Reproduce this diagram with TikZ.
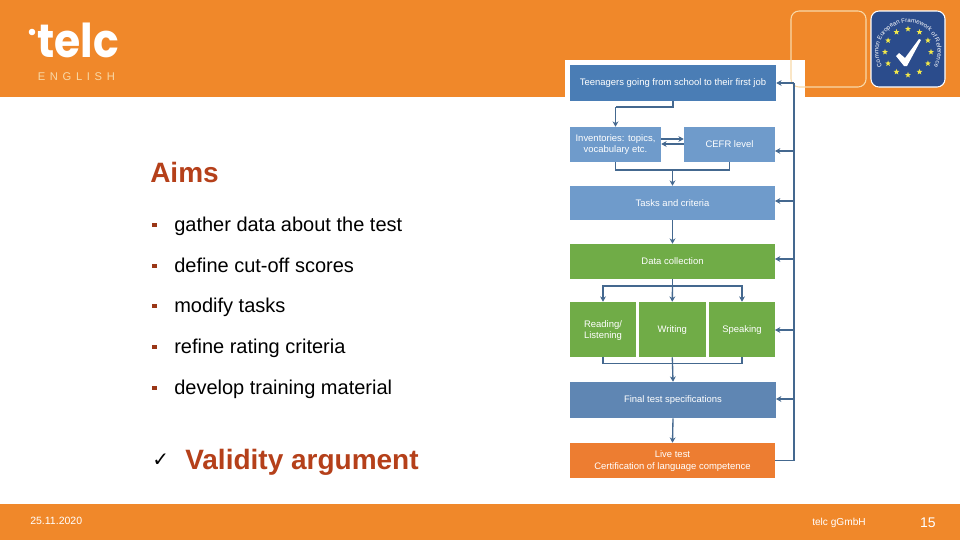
\documentclass[tikz,border=0pt]{standalone}
\usepackage{fontspec}
\setmainfont{Liberation Sans}
\newfontfamily\symfont{DejaVu Sans}
\newfontfamily\logofont{Poppins}
\usetikzlibrary{arrows.meta,decorations.text,shapes.geometric,calc}
\definecolor{brandorange}{HTML}{F0882A}
\definecolor{titlered}{HTML}{B5401A}
\definecolor{bluedark}{HTML}{4A7DB5}
\definecolor{bluemid}{HTML}{6F9BCB}
\definecolor{bluefinal}{HTML}{5F86B3}
\definecolor{greenbox}{HTML}{70AC47}
\definecolor{orangebox}{HTML}{ED7D31}
\definecolor{linkblue}{HTML}{44688F}
\definecolor{badgeblue}{HTML}{2B4C8C}
\definecolor{staryellow}{HTML}{F2E84A}
\definecolor{outlinecream}{HTML}{F8D9A8}
\tikzset{
  flowbox/.style={draw=none,fill=#1,inner sep=0pt},
  flowtext/.style={text=white,align=center,font=\fontsize{7.1}{9}\selectfont},
  link/.style={draw=linkblue,line width=1pt},
  arrowlink/.style={link,-{Stealth[length=4pt,width=4.4pt]}},
  aimitem/.style={anchor=base west,inner sep=0pt,font=\fontsize{15}{17}\selectfont,text=black},
  bulletmark/.style={fill=titlered!85!black,minimum size=3.6pt,inner sep=0pt},
  starmark/.style={star,star points=5,star point ratio=2.4,fill=staryellow,minimum size=4.6pt,inner sep=0pt},
  foottext/.style={anchor=base west,inner sep=0pt,text=white},
}
\newcommand{\flowbox}[6]{\node[flowbox=#2,minimum width=#5*0.75pt,minimum height=#6*0.75pt] (#1) at ({#3+#5/2},{#4+#6/2}) {};}
\begin{document}
\begin{tikzpicture}[x=0.75pt,y=-0.75pt]
\useasboundingbox (0,0) rectangle (960,540);
\fill[white] (0,0) rectangle (960,540);
\fill[brandorange] (0,0) rectangle (960,97);
\fill[brandorange] (0,504) rectangle (960,540);
\fill[white] (565,60) rectangle (805,100);

% logo
\node[anchor=base west,inner sep=0pt,text=white,xscale=0.91,font=\logofont\bfseries\fontsize{35}{35}\selectfont] (telc) at (37,57) {telc};
\fill[white] (32,32) circle (3.3);
\node[anchor=base west,inner sep=0pt,text=outlinecream,font=\fontsize{8.4}{9}\selectfont] (eng) at (37.5,80) {E\hspace{3.5pt}N\hspace{3.5pt}G\hspace{3.5pt}L\hspace{3.5pt}I\hspace{3.5pt}S\hspace{3.5pt}H};

% badges
\draw[outlinecream,line width=0.8pt,rounded corners=6pt] (791,11) rectangle (866,87);
\draw[white,fill=badgeblue,line width=0.8pt,rounded corners=6pt] (871,11) rectangle (945,87);
\begin{scope}[shift={(908,52)},x=0.75pt,y=0.75pt]
\foreach \a in {0,30,...,330}{\node[starmark] at (\a:23) {};}
\path[decorate,decoration={text along path,text align=center,text={|\fontsize{4.6}{5}\selectfont\color{white}|Common European Framework of Reference}}]
  (218:29.5) arc[start angle=218,end angle=-38,radius=29.5];
\fill[white] (-12,-4) -- (-9,-1) -- (-3,-6) -- (11,13) -- (13,12) -- (-1,-14) -- (-4,-14) -- cycle;
\end{scope}

% left text
\node[anchor=base west,inner sep=0pt,text=titlered,font=\bfseries\fontsize{21}{23}\selectfont] (aims) at (150,182) {Aims};
\foreach \n/\y/\t in {a/231/gather data about the test,b/272/define cut-off scores,c/312/modify tasks,d/353/refine rating criteria,e/394/develop training material}{
  \node[bulletmark] (bul\n) at (154.7,\y-6) {};
  \node[aimitem] (item\n) at (174,\y) {\t};
}
\node[anchor=base west,inner sep=0pt,font=\symfont\fontsize{15}{17}\selectfont] (tick) at (152,466) {✓};
\node[anchor=base west,inner sep=0pt,text=titlered,font=\bfseries\fontsize{21}{23}\selectfont] (valid) at (185,469) {Validity argument};

% flow boxes
\flowbox{teen}{bluedark}{570}{65}{206}{36}
\flowbox{inv}{bluemid}{570}{127}{91}{35}
\flowbox{cefr}{bluemid}{684}{127}{91}{35}
\flowbox{tasks}{bluemid}{570}{186}{205}{34}
\flowbox{data}{greenbox}{570}{244}{205}{35}
\flowbox{read}{greenbox}{570}{302}{66}{55}
\flowbox{writ}{greenbox}{639}{302}{66.5}{55}
\flowbox{speak}{greenbox}{709}{302}{66}{55}
\flowbox{final}{bluefinal}{570}{382}{206}{36}
\flowbox{live}{orangebox}{570}{443}{205}{35}
\node[flowtext] at (teen) {Teenagers going from school to their first job};
\node[flowtext,font=\fontsize{7.1}{7.6}\selectfont] at (inv) {Inventories: topics,\\vocabulary etc.};
\node[flowtext] at (cefr) {CEFR level};
\node[flowtext] at (tasks) {Tasks and criteria};
\node[flowtext] at (data) {Data collection};
\node[flowtext,font=\fontsize{7.1}{8.3}\selectfont] at ($(read)+(0,1)$) {Reading/\\Listening};
\node[flowtext] at ($(writ)+(0,1)$) {Writing};
\node[flowtext] at ($(speak)+(0,1)$) {Speaking};
\node[flowtext] at (final) {Final test specifications};
\node[flowtext] at ($(live)+(0,1)$) {Live test\\Certification of language competence};

% connectors
\coordinate (rail) at (794,83);
\coordinate (elbowT) at (615.5,107);
\draw[link] (teen.south) |- (elbowT);
\draw[arrowlink] (elbowT) -- (inv.north);
\draw[arrowlink] ([yshift=5.5*0.75pt]inv.east) -- ([yshift=5.5*0.75pt]cefr.west);
\draw[arrowlink] ([yshift=0.5*0.75pt]cefr.west) -- ([yshift=0.5*0.75pt]inv.east);
\coordinate (joinA) at (672.5,170);
\draw[link] (inv.south) |- (joinA) -| (cefr.south);
\draw[arrowlink] (joinA) -- (tasks.north);
\draw[arrowlink] (tasks.south) -- (data.north);
\coordinate (splitB) at (672.5,286);
\draw[link] (data.south) -- (splitB);
\draw[arrowlink] (splitB) -| (read.north);
\draw[arrowlink] (splitB) -- (writ.north);
\draw[arrowlink] (splitB) -| (speak.north);
\coordinate (joinC) at (672.5,363.5);
\draw[link] (read.south) |- (joinC) -| (speak.south);
\draw[link] (writ.south) -- (joinC);
\draw[arrowlink] (joinC) -- (final.north);
\draw[arrowlink] (final.south) -- (live.north);
\draw[link] (live.east) -| (rail);
\draw[arrowlink] (rail) -- (teen.east);
\draw[arrowlink] (794,151) -- (775,151);
\draw[arrowlink] (794,201) -- (775,201);
\draw[arrowlink] (794,259) -- (775,259);
\draw[arrowlink] (794,330) -- (775,330);
\draw[arrowlink] (794,399) -- (776,399);

% footer
\node[foottext,font=\fontsize{7.9}{9}\selectfont] (date) at (30,524) {25.11.2020};
\node[foottext,font=\fontsize{7.6}{9}\selectfont] (co) at (812,525) {telc gGmbH};
\node[foottext,anchor=base east,font=\fontsize{10.5}{13}\selectfont] (pg) at (936,527) {15};
\end{tikzpicture}
\end{document}
